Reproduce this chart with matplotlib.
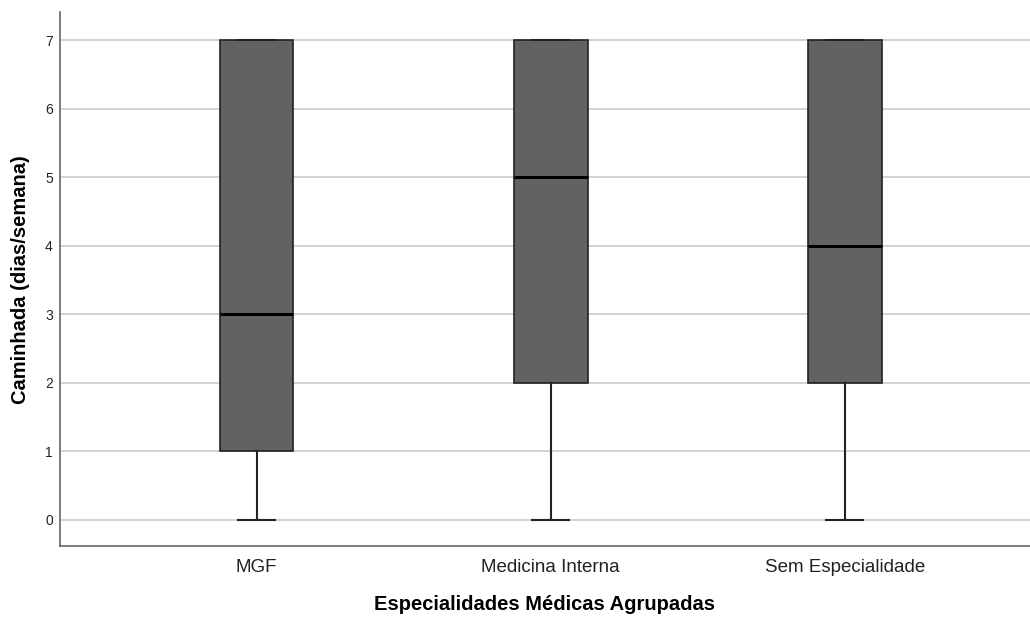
import matplotlib.pyplot as plt

plt.rcParams['font.family'] = ['Liberation Sans', 'DejaVu Sans']

grupos = ['MGF', 'Medicina Interna', 'Sem Especialidade']
minimo = [0, 0, 0]
q1 = [1, 2, 2]
mediana = [3, 5, 4]
q3 = [7, 7, 7]
maximo = [7, 7, 7]

stats = []
for i in range(len(grupos)):
    stats.append({'label': grupos[i], 'whislo': minimo[i], 'q1': q1[i],
                  'med': mediana[i], 'q3': q3[i], 'whishi': maximo[i], 'fliers': []})

fig = plt.figure(figsize=(10.3, 6.18), dpi=100)
ax = fig.add_axes([0.058, 0.1165, 0.942, 0.8635])

ax.bxp(stats, positions=[1, 2, 3], widths=0.25, patch_artist=True, showfliers=False,
       boxprops=dict(facecolor='#626262', edgecolor='#222222', linewidth=1.2),
       medianprops=dict(color='black', linewidth=2.2),
       whiskerprops=dict(color='#222222', linewidth=1.5),
       capprops=dict(color='#222222', linewidth=1.5),
       capwidths=0.125, zorder=3)

ax.set_xlim(0.33, 3.63)
ax.set_ylim(-0.38, 7.41)
ax.set_yticks(range(8))
ax.yaxis.grid(True, color='#cfcfcf', linewidth=1.3, zorder=0)
ax.set_axisbelow(True)
ax.tick_params(axis='y', length=0, labelsize=10, pad=5, labelcolor='#222222')
ax.tick_params(axis='x', length=0, labelsize=13.5, pad=9, labelcolor='#222222')

for s in ['top', 'right']:
    ax.spines[s].set_visible(False)
for s in ['left', 'bottom']:
    ax.spines[s].set_color('#666666')
    ax.spines[s].set_linewidth(1.2)

ax.set_xlabel('Especialidades Médicas Agrupadas', fontsize=14.5, fontweight='bold', labelpad=14)
ax.set_ylabel('Caminhada (dias/semana)', fontsize=14.5, fontweight='bold', labelpad=11)

fig.savefig('out.png', dpi=100)
